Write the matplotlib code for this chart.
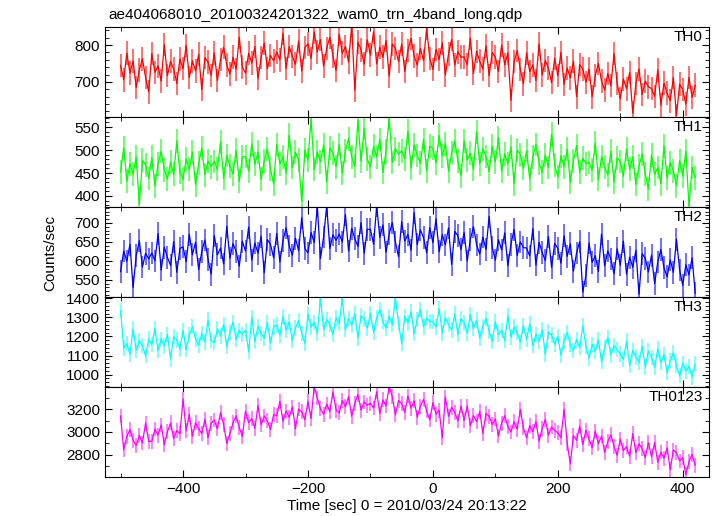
import numpy as np
import matplotlib
matplotlib.use("Agg")
import matplotlib.pyplot as plt
from matplotlib.ticker import MultipleLocator

plt.rcParams['font.family'] = ['Liberation Sans', 'DejaVu Sans']

# time bins (sec), 5 s steps, -500 .. 420
time = np.arange(-500, 421, 5)

# count rates (one row = 50 s)
th0 = [745, 706, 778, 724, 757, 685, 733, 763, 712, 673,
       777, 726, 744, 702, 801, 717, 756, 735, 696, 762,
       736, 799, 712, 757, 730, 775, 679, 766, 754, 718,
       779, 704, 761, 794, 746, 722, 767, 734, 821, 740,
       724, 778, 751, 796, 709, 766, 805, 736, 772, 757,
       781, 760, 832, 736, 796, 769, 748, 811, 730, 793,
       803, 764, 836, 782, 815, 743, 791, 821, 770, 731,
       829, 778, 796, 754, 853, 678, 808, 787, 748, 814,
       773, 836, 749, 794, 767, 812, 716, 803, 791, 755,
       803, 728, 785, 818, 770, 746, 791, 758, 845, 764,
       734, 788, 761, 806, 719, 776, 815, 746, 782, 767,
       768, 747, 819, 723, 783, 756, 735, 798, 717, 780,
       767, 728, 800, 746, 779, 650, 755, 785, 734, 695,
       779, 728, 746, 704, 803, 719, 758, 737, 698, 764,
       717, 780, 693, 738, 711, 756, 660, 747, 735, 699,
       735, 660, 717, 750, 702, 678, 723, 690, 777, 696,
       654, 708, 681, 726, 615, 696, 735, 666, 702, 687,
       682, 661, 733, 637, 697, 670, 649, 712, 608, 694,
       679, 640, 712, 658, 691]

th1 = [452, 505, 432, 470, 448, 485, 382, 478, 468, 438,
       484, 422, 470, 497, 457, 437, 474, 447, 520, 452,
       436, 481, 458, 496, 424, 471, 504, 446, 476, 464,
       475, 458, 518, 438, 488, 465, 448, 500, 432, 485,
       486, 454, 514, 469, 496, 436, 476, 502, 459, 426,
       512, 470, 485, 450, 532, 462, 495, 478, 388, 500,
       478, 568, 458, 496, 474, 511, 431, 504, 494, 464,
       512, 450, 498, 525, 485, 465, 565, 475, 548, 480,
       463, 508, 485, 523, 451, 498, 570, 473, 503, 491,
       498, 481, 541, 461, 511, 488, 471, 523, 455, 508,
       504, 472, 532, 487, 514, 454, 494, 520, 477, 444,
       520, 478, 493, 458, 540, 470, 503, 486, 453, 508,
       474, 527, 454, 492, 470, 507, 427, 500, 490, 460,
       499, 437, 485, 512, 472, 452, 489, 462, 535, 467,
       442, 487, 464, 502, 430, 477, 510, 452, 482, 470,
       473, 456, 516, 436, 486, 463, 446, 498, 430, 483,
       475, 443, 503, 458, 485, 425, 465, 491, 448, 415,
       489, 447, 462, 427, 509, 439, 472, 455, 422, 477,
       444, 497, 378, 462, 440]

th2 = [572, 626, 599, 644, 530, 614, 653, 584, 620, 605,
       621, 600, 672, 576, 636, 609, 588, 651, 570, 633,
       637, 598, 670, 616, 649, 577, 625, 655, 604, 565,
       667, 616, 634, 592, 691, 607, 646, 625, 586, 652,
       626, 689, 602, 647, 620, 665, 569, 656, 644, 608,
       672, 597, 654, 687, 639, 615, 660, 627, 714, 633,
       621, 675, 648, 745, 606, 663, 745, 633, 669, 654,
       671, 650, 722, 626, 686, 659, 638, 701, 620, 683,
       683, 644, 745, 662, 695, 623, 671, 701, 650, 611,
       703, 652, 670, 628, 727, 643, 682, 661, 622, 688,
       648, 711, 624, 669, 642, 687, 591, 678, 666, 630,
       675, 600, 657, 690, 642, 618, 663, 630, 717, 636,
       602, 656, 629, 674, 587, 644, 683, 614, 650, 635,
       634, 613, 685, 589, 649, 622, 601, 664, 583, 646,
       633, 594, 666, 612, 645, 573, 621, 651, 518, 561,
       647, 596, 614, 572, 671, 587, 626, 605, 566, 632,
       589, 652, 565, 610, 583, 628, 512, 619, 607, 571,
       615, 540, 597, 630, 582, 558, 603, 570, 657, 576,
       536, 590, 563, 608, 515]

th3 = [1335, 1139, 1163, 1107, 1239, 1127, 1179, 1151, 1099, 1187,
       1158, 1242, 1126, 1186, 1150, 1210, 1082, 1198, 1182, 1134,
       1231, 1131, 1207, 1251, 1187, 1155, 1215, 1171, 1287, 1179,
       1167, 1239, 1203, 1263, 1147, 1223, 1275, 1183, 1231, 1211,
       1233, 1120, 1301, 1173, 1253, 1217, 1189, 1273, 1165, 1249,
       1260, 1208, 1304, 1232, 1276, 1180, 1244, 1284, 1216, 1164,
       1317, 1249, 1273, 1217, 1400, 1237, 1289, 1261, 1209, 1297,
       1268, 1400, 1236, 1296, 1260, 1320, 1192, 1308, 1292, 1244,
       1321, 1221, 1297, 1341, 1277, 1245, 1305, 1261, 1400, 1269,
       1165, 1306, 1270, 1330, 1214, 1290, 1342, 1250, 1298, 1278,
       1278, 1250, 1346, 1218, 1298, 1262, 1234, 1318, 1210, 1294,
       1270, 1218, 1314, 1242, 1286, 1190, 1254, 1294, 1226, 1174,
       1277, 1209, 1233, 1177, 1309, 1197, 1249, 1221, 1169, 1257,
       1183, 1267, 1151, 1211, 1175, 1235, 1107, 1223, 1207, 1159,
       1201, 1101, 1177, 1221, 1157, 1125, 1185, 1141, 1257, 1149,
       1087, 1159, 1123, 1183, 1067, 1143, 1195, 1103, 1151, 1131,
       1108, 1080, 1176, 1048, 1128, 1092, 1064, 1148, 1040, 1124,
       1090, 1038, 1134, 1062, 1106, 1010, 1074, 1114, 1046, 994,
       1060, 1019, 1043, 987, 1055]

th0123 = [3140, 2844, 2958, 3024, 2928, 2880, 2970, 2904, 3078, 2916,
          2918, 3026, 2972, 3062, 2888, 3002, 3080, 2942, 3014, 2984,
          3290, 3010, 3154, 2962, 3082, 3028, 2986, 3112, 2950, 3076,
          3105, 3027, 3171, 3063, 2900, 2985, 3081, 3141, 3039, 2961,
          3183, 3081, 3117, 3033, 3231, 3063, 3141, 3099, 3021, 3153,
          3142, 3268, 3094, 3184, 3130, 3220, 3028, 3202, 3178, 3106,
          3269, 3119, 3400, 3299, 3203, 3155, 3245, 3179, 3353, 3191,
          3168, 3276, 3222, 3312, 3138, 3252, 3330, 3192, 3264, 3234,
          3252, 3210, 3354, 3162, 3282, 3228, 3400, 3312, 3150, 3276,
          3250, 3172, 3316, 3208, 3274, 3130, 3226, 3286, 3184, 3106,
          3258, 3156, 3192, 2950, 3306, 3138, 3216, 3174, 3096, 3228,
          3102, 3228, 3054, 3144, 3090, 3180, 2988, 3162, 3138, 3066,
          3114, 2964, 3078, 3144, 3048, 3000, 3090, 3024, 3198, 3036,
          2948, 3056, 3002, 3092, 2918, 3032, 3110, 2972, 3044, 3014,
          2992, 2950, 3200, 2902, 2720, 2968, 2926, 3052, 2890, 3016,
          2940, 2862, 3006, 2898, 2964, 2820, 2916, 2976, 2874, 2796,
          2938, 2836, 2872, 2788, 2986, 2818, 2896, 2854, 2776, 2908,
          2782, 2908, 2734, 2824, 2770, 2860, 2668, 2842, 2818, 2746,
          2774, 2624, 2738, 2804, 2708]

# typical 1-sigma error bar of each band
errors = [32, 26, 30, 40, 65]

names = ['TH0', 'TH1', 'TH2', 'TH3', 'TH0123']
colors = ['#ff0000', '#00ff00', '#0000ff', '#00ffff', '#ff00ff']
bar_colors = ['#ff7070', '#70ff70', '#7070ff', '#80ffff', '#ff80ff']
series = [th0, th1, th2, th3, th0123]
ylims = [(605, 849), (376, 572), (505, 742), (935, 1407), (2605, 3395)]
majors = [100, 50, 50, 100, 200]
minors = [20, 10, 10, 20, 100]

fig, axes = plt.subplots(5, 1, figsize=(7.17, 5.16), dpi=100, sharex=True)
fig.subplots_adjust(left=0.1464, right=0.9888, top=0.9477, bottom=0.0756, hspace=0)

for ax, name, c, bc, vals, err, yl, mj, mn in zip(axes, names, colors, bar_colors, series,
                                                 errors, ylims, majors, minors):
    ax.errorbar(time, vals, yerr=err, fmt='none', ecolor=bc, elinewidth=1.4)
    ax.plot(time, vals, color=c, lw=0.9)
    ax.set_ylim(*yl)
    ax.set_xlim(-525, 442)
    ax.yaxis.set_major_locator(MultipleLocator(mj))
    ax.yaxis.set_minor_locator(MultipleLocator(mn))
    ax.xaxis.set_major_locator(MultipleLocator(200))
    ax.xaxis.set_minor_locator(MultipleLocator(100))
    ax.tick_params(which='both', direction='in', top=True, right=True, labelsize=11)
    ax.tick_params(which='major', length=5)
    ax.tick_params(which='minor', length=3)
    ax.text(0.99, 0.885, name, transform=ax.transAxes, ha='right', va='center', fontsize=11)

axes[-1].set_xlabel('Time [sec] 0 = 2010/03/24 20:13:22', fontsize=11, labelpad=2)
fig.text(0.07, 0.51, 'Counts/sec', rotation=90, ha='center', va='center', fontsize=11)
fig.text(0.151, 0.971, 'ae404068010_20100324201322_wam0_trn_4band_long.qdp',
         ha='left', va='center', fontsize=11)

plt.savefig('out.png', dpi=100)
